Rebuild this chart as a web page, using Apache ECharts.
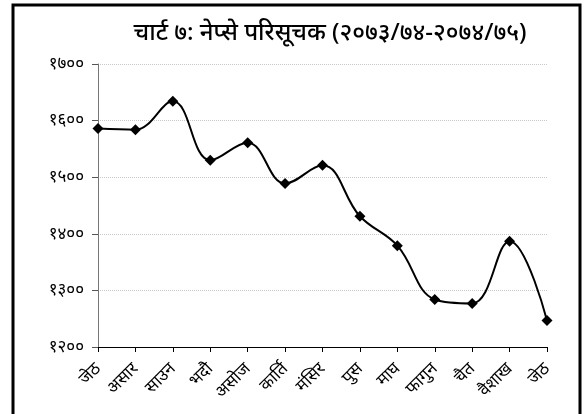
<!DOCTYPE html>
<html>
<head>
<meta charset="utf-8">
<script src="https://cdn.jsdelivr.net/npm/echarts@6/dist/echarts.min.js"></script>
<style>
html, body { margin: 0; padding: 0; background: #fff; }
#chart { width: 584px; height: 414px; }
</style>
</head>
<body>
<div id="chart"></div>
<script>
var title = 'चार्ट ७: नेप्से परिसूचक (२०७३/७४-२०७४/७५)';
var months = ['जेठ', 'असार', 'साउन', 'भदौ', 'असोज', 'कार्ति', 'मंसिर', 'पुस', 'माघ', 'फागुन', 'चैत', 'वैशाख', 'जेठ'];
var nepse = [1586, 1584, 1634, 1530, 1561, 1489, 1521, 1431, 1379, 1284, 1277, 1387, 1247];
var devDigits = ['०', '१', '२', '३', '४', '५', '६', '७', '८', '९'];

// अंकलाई देवनागरीमा
var toDev = function (n) {
    return String(n).replace(/[0-9]/g, function (d) { return devDigits[+d]; });
};

var myChart = echarts.init(document.getElementById('chart'));
myChart.setOption({
    backgroundColor: '#fff',
    animation: false,
    textStyle: { fontFamily: 'Noto Sans, sans-serif' },
    graphic: [{
        type: 'rect',
        shape: { x: 13, y: 5, width: 567, height: 420 },
        style: { fill: 'none', stroke: '#000', lineWidth: 3 },
        silent: true
    }],
    title: {
        text: title,
        left: 325,
        textAlign: 'center',
        top: 16,
        textStyle: { fontSize: 24, fontWeight: 500, color: '#000' }
    },
    grid: { left: 98, right: 37, top: 64, bottom: 67 },
    xAxis: {
        type: 'category',
        data: months,
        boundaryGap: false,
        axisLine: { lineStyle: { color: '#000', width: 1 } },
        axisTick: { alignWithLabel: true, length: 5, lineStyle: { color: '#000' } },
        axisLabel: { rotate: 45, fontSize: 17, color: '#000', margin: 19, interval: 0 }
    },
    yAxis: {
        type: 'value',
        min: 1200,
        max: 1700,
        interval: 100,
        axisLine: { show: true, lineStyle: { color: '#777' } },
        axisTick: { show: true, length: 6, lineStyle: { color: '#555' } },
        axisLabel: { fontSize: 17, color: '#000', margin: 14, formatter: toDev },
        splitLine: { lineStyle: { color: '#c8c8c8', type: 'dotted' } }
    },
    series: [{
        type: 'line',
        data: nepse,
        smooth: 0.4,
        symbol: 'diamond',
        symbolSize: 11,
        itemStyle: { color: '#000' },
        lineStyle: { color: '#000', width: 2 }
    }]
});
</script>
</body>
</html>
